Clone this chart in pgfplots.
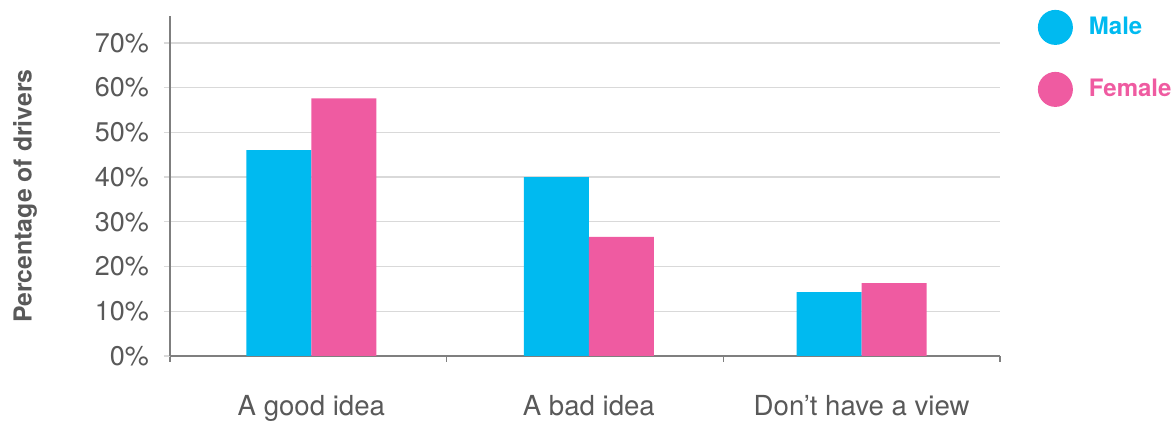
\documentclass[border=0pt]{standalone}
\usepackage{fontspec}
\setmainfont{TeX Gyre Heros}
\usepackage{pgfplots}
\pgfplotsset{compat=1.18}
\definecolor{male}{HTML}{00BAF0}
\definecolor{female}{HTML}{EF5BA1}
\definecolor{txt}{HTML}{595959}
\definecolor{gridc}{HTML}{D9D9D9}
\definecolor{axc}{HTML}{7F7F7F}
\begin{document}
\begin{tikzpicture}
\begin{axis}[name=ax, scale only axis, width=415pt, height=170pt,
  xmin=-0.5, xmax=2.5, ymin=0, ymax=76,
  ybar=0pt, bar width=0.235,
  /pgf/number format/assume math mode=true,
  axis x line*=bottom, axis y line*=left,
  axis line style={axc, line width=0.8pt},
  ytick={0,10,...,70}, yticklabel={\pgfmathprintnumber{\tick}\%},
  ymajorgrids, grid style={gridc, line width=0.7pt},
  tick align=outside, major tick length=3pt,
  ytick style={gridc, line width=0.7pt},
  xtick={-0.5,0.5,1.5,2.5}, xticklabels={},
  xtick style={axc, line width=0.8pt},
  extra x ticks={0.011,1.014,2},
  extra x tick labels={A good idea, A bad idea, Don’t have a view},
  extra x tick style={major tick length=0pt},
  y tick label style={font=\fontsize{13.5}{15}\selectfont, text=txt, xshift=-4pt},
  x tick label style={font=\fontsize{13.8}{16}\selectfont, text=txt, yshift=-16pt},
  ylabel={Percentage of drivers},
  ylabel style={font=\bfseries\fontsize{12.4}{14}\selectfont, text=txt, at={(axis description cs:-0.1747,0.47)}, anchor=center},
  legend style={at={(axis description cs:1,1)}, anchor=north west, draw=none, fill=none, inner sep=0pt, xshift=18.75pt, yshift=3.25pt, row sep=13.5pt, font=\bfseries\fontsize{12}{14}\selectfont},
  legend image code/.code={\fill (0pt,0pt) circle (8.75pt);},
  legend cell align=left,
]
\addplot[fill=male, draw=none] coordinates {(0.011,46) (1.014,40) (2,14.3)};
\addlegendentry{\hspace*{6pt}\textcolor{male}{Male}}
\addplot[fill=female, draw=none] coordinates {(0.011,57.6) (1.014,26.6) (2,16.3)};
\addlegendentry{\hspace*{6pt}\textcolor{female}{Female}}
\end{axis}
\pgfresetboundingbox
\path ([xshift=-85pt,yshift=-32.5pt]ax.south west) rectangle ([xshift=88pt,yshift=8pt]ax.north east);
\end{tikzpicture}
\end{document}
